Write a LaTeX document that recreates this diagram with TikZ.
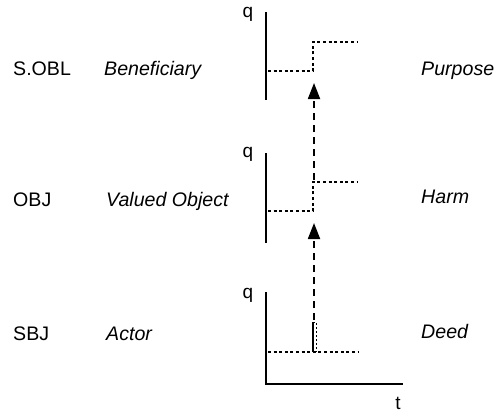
\documentclass[tikz,border=0pt]{standalone}
\usepackage{fontspec}
\setmainfont{Liberation Sans}
\usetikzlibrary{arrows.meta}
\tikzset{
  lbl/.style={anchor=base west, inner sep=0pt, font=\fontsize{19.6}{23}\selectfont},
  role/.style={lbl, font=\fontsize{19.6}{23}\selectfont\itshape},
  axislbl/.style={anchor=base, inner sep=0pt, font=\fontsize{19}{22}\selectfont},
  axis/.style={line width=1.7pt},
  level/.style={line width=1.3pt, dash pattern=on 3pt off 2.6pt},
  cause/.style={line width=1.8pt, dash pattern=on 7pt off 5pt, -{Triangle[width=12pt,length=16pt]}}
}
\begin{document}
\begin{tikzpicture}[x=1pt,y=-1pt]
\useasboundingbox (0,0) rectangle (494,413);
% left labels
\node[lbl]  (sobl) at (13,75)  {S.OBL};
\node[role] (ben)  at (104,75) {Beneficiary};
\node[lbl]  (obj)  at (13,206) {OBJ};
\node[role] (vo)   at (106,206) {Valued Object};
\node[lbl]  (sbj)  at (13,340) {SBJ};
\node[role] (act)  at (106,340) {Actor};
% right labels
\node[role] (pur)  at (421,75)  {Purpose};
\node[role] (harm) at (421,203) {Harm};
\node[role] (deed) at (421,338) {Deed};
% q labels
\node[axislbl] (q1) at (248,17)  {q};
\node[axislbl] (q2) at (248,157) {q};
\node[axislbl] (q3) at (248,298) {q};
\node[axislbl] (t)  at (398,409) {t};
% axes
\coordinate (a1t) at (266,12);  \coordinate (a1b) at (266,100);
\coordinate (a2t) at (266,153); \coordinate (a2b) at (266,243);
\coordinate (a3t) at (266,292); \coordinate (a3o) at (266,384);
\coordinate (a3r) at (403,384);
\draw[axis] (a1t) -- (a1b);
\draw[axis] (a2t) -- (a2b);
\draw[axis] (a3t) -- (a3o) -- (a3r);
% top step
\coordinate (s1a) at (268,71); \coordinate (s1b) at (313,71);
\coordinate (s1c) at (313,42); \coordinate (s1d) at (357,42);
\draw[level] (s1a) -- (s1b) -- (s1c) -- (s1d);
% middle step
\coordinate (s2a) at (268,211); \coordinate (s2b) at (313,211);
\coordinate (s2c) at (313,182); \coordinate (s2d) at (357,182);
\draw[level] (s2a) -- (s2b) -- (s2c) -- (s2d);
% bottom impulse
\coordinate (s3a) at (268,352); \coordinate (s3b) at (313,352);
\coordinate (s3c) at (313,322); \coordinate (s3d) at (316,322);
\coordinate (s3e) at (316,352); \coordinate (s3f) at (358,352);
\draw[level] (s3a) -- (s3f);
\draw[line width=1.3pt] (s3b) -- (s3c);
\draw[line width=1pt, dash pattern=on 2pt off 2pt] (s3c) -- (s3d) -- (s3e);
% causal arrows
\coordinate (c1s) at (314,320); \coordinate (c1e) at (314,223);
\coordinate (c2s) at (314,180); \coordinate (c2e) at (314,83);
\draw[cause] (c1s) -- (c1e);
\draw[cause] (c2s) -- (c2e);
\end{tikzpicture}
\end{document}
